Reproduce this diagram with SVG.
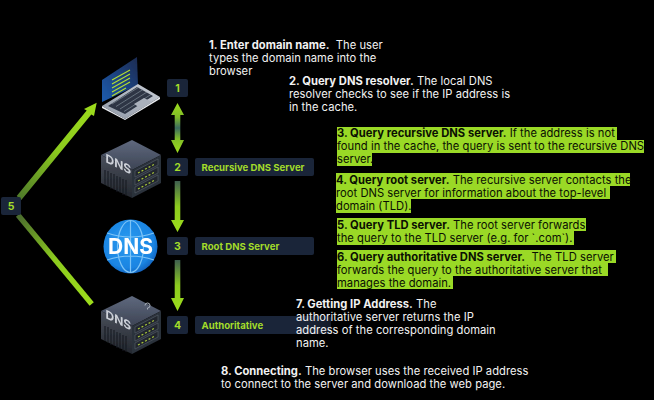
<svg xmlns="http://www.w3.org/2000/svg" width="654" height="400" viewBox="0 0 654 400">
<style>
text{font-family:"Inter","Noto Sans","Liberation Sans",sans-serif;}
.p{font-size:11.2px;fill:#f2f2f2;letter-spacing:.03px}
.k{font-size:11.2px;fill:#0a0f02;letter-spacing:.03px}
.p tspan,.k tspan{font-weight:700}
.hl{fill:#9ad926}
.box{fill:#1a2539}
.n{font-size:10.5px;font-weight:700;fill:#a3dc2a;text-anchor:middle}
.l{font-size:9.6px;font-weight:700;fill:#a3dc2a}
.code{stroke:#b4dc30;stroke-width:1.200}
.slot{fill:#20262f;stroke:#59616d;stroke-width:.6}
.grill{stroke:#14181e;stroke-width:1}
.icon{filter:url(#soft)}
</style>
<defs>
<filter id="soft" x="-5%" y="-5%" width="110%" height="110%"><feGaussianBlur stdDeviation=".35"/></filter>
<linearGradient id="gv" x1="0" y1="0" x2="0" y2="1"><stop offset="0" stop-color="#3f5f50"/><stop offset=".5" stop-color="#8ccb1e"/><stop offset="1" stop-color="#9ddc1c"/></linearGradient>
<linearGradient id="gd" x1="0" y1="0" x2="0" y2="1"><stop offset="0" stop-color="#9ddc1c"/><stop offset=".28" stop-color="#80bc28"/><stop offset=".5" stop-color="#3a6a60"/><stop offset=".72" stop-color="#80bc28"/><stop offset="1" stop-color="#9ddc1c"/></linearGradient>
<linearGradient id="g5u" gradientUnits="userSpaceOnUse" x1="19" y1="198" x2="96" y2="103"><stop offset="0" stop-color="#4f7a2a"/><stop offset=".5" stop-color="#8ccb1e"/><stop offset="1" stop-color="#9ddc1c"/></linearGradient>
<linearGradient id="g5d" gradientUnits="userSpaceOnUse" x1="18" y1="215" x2="91" y2="304"><stop offset="0" stop-color="#4a6b2e"/><stop offset=".5" stop-color="#8ccb1e"/><stop offset="1" stop-color="#9ddc1c"/></linearGradient>
<linearGradient id="scr" x1="0" y1="1" x2="1" y2="0"><stop offset="0" stop-color="#1c5cb0"/><stop offset="1" stop-color="#1a2a50"/></linearGradient>
<linearGradient id="deck" x1="0" y1="1" x2="1" y2="0"><stop offset="0" stop-color="#8f98a6"/><stop offset="1" stop-color="#c9ced6"/></linearGradient>
<linearGradient id="top" x1="0" y1="0" x2="0" y2="1"><stop offset="0" stop-color="#5f697e"/><stop offset="1" stop-color="#3d4454"/></linearGradient>
<linearGradient id="left" x1="0" y1="0" x2="0" y2="1"><stop offset="0" stop-color="#4a505c"/><stop offset="1" stop-color="#23272e"/></linearGradient>
<radialGradient id="globe" cx=".45" cy=".42" r=".6"><stop offset="0" stop-color="#2a9bf0"/><stop offset=".8" stop-color="#1a84e2"/><stop offset="1" stop-color="#1162bd"/></radialGradient>
<linearGradient id="fade" x1="0" y1="0" x2="1" y2="0"><stop offset="0" stop-color="#1a2539"/><stop offset=".8" stop-color="#1a2539"/><stop offset="1" stop-color="#141b28"/></linearGradient>
<g id="srv">
<polygon points="132,140 161,155 132,170 101,155" fill="url(#top)"/>
<polygon points="101,155 132,170 132,198 101,183" fill="url(#left)"/>
<polygon points="132,170 161,155 161,183 132,198" fill="#2c313b"/>
<g class="grill"><path d="M105,170v15M108,171v16M111,173v16M114,174v16M117,176v16M120,177v16M123,179v16M126,180v16"/></g>
<text transform="translate(105.500,162) skewY(26)" font-size="12" font-weight="700" style="fill:#cdd1d8">DNS</text>
<g><polygon class="slot" points="135,171 158,159 158,165 135,177"/><polygon class="slot" points="135,179 158,167 158,173 135,185"/><polygon class="slot" points="135,187 158,175 158,181 135,193"/>
<path d="M138,173l17,-9M138,181l17,-9M138,189l17,-9" stroke="#a9c83a" stroke-width="1.200" stroke-dasharray="2 2"/></g>
</g>
</defs>
<rect id="bg" width="654" height="400" fill="#000"/>

<g id="connectors">
<path d="M177.500,103L184,115H180.300V140H184L177.500,153L171,140H174.700V115H171Z" fill="url(#gd)"/>
<path d="M174.700,181H180.300V220H184L177.500,232L171,220H174.700Z" fill="url(#gv)"/>
<path d="M174.700,260H180.300V298H184L177.500,311L171,298H174.700Z" fill="url(#gv)"/>
<path d="M16.700,196.100L86.700,110.600L84,109L96.700,102.700L94,116L91.300,114.400L21.300,199.900Z" fill="url(#g5u)"/>
<path d="M20.100,213.300L93.800,302.300L89.600,305.700L15.900,216.700Z" fill="url(#g5d)"/>
</g>

<g id="node-5"><rect class="box" x="1" y="197" width="20" height="18" rx="2"/><text class="n" x="11" y="210">5</text></g>

<g id="node-laptop" class="icon">
<polygon points="102,80 137,57 138,85 102,102" fill="url(#scr)"/>
<path class="code" d="M112,80l18,-10M112,84l18,-10M112,88l18,-10M112,92l18,-10M112,96l14,-8"/>
<polygon points="102,106 138,84 160,97 125,119" fill="url(#deck)"/>
<polygon points="102,106 125,119 160,97 160,99 125,120 102,108" fill="#e6e9ee"/>
<polygon points="108,106 137,87 153,96 125,114" fill="#2d3644"/>
<path d="M112,104l27,-17M116,106.500l27,-17M120,109l27,-17M124,111.500l27,-17" stroke="#8f98a6" stroke-width=".6"/>
<polygon points="134,104 144,98 152,102 141,108.500" fill="#aab1bc"/>
</g>

<g id="node-1"><rect class="box" x="167" y="79" width="21" height="18" rx="2"/><text class="n" x="177.500" y="92">1</text></g>

<g id="node-recursive" class="icon"><use href="#srv"/></g>
<g id="node-2"><rect class="box" x="167" y="158" width="21" height="18" rx="2"/><text class="n" x="177.500" y="171">2</text>
<rect class="box" x="195" y="158" width="119" height="18" rx="2"/><text class="l" x="201.500" y="170.500">Recursive DNS Server</text></g>

<g id="node-globe" class="icon">
<circle cx="130.500" cy="246.500" r="27" fill="url(#globe)"/>
<g fill="none" stroke="#7cc4f7" stroke-width="1.200"><ellipse cx="130.500" cy="246.500" rx="13" ry="26"/><path d="M130.500,220v53M107,233q23.500,8 47,0M107,260q23.500,-8 47,0"/></g>
<text x="130.500" y="254" font-size="21" font-weight="700" text-anchor="middle" style="fill:#fff">DNS</text>
</g>
<g id="node-3"><rect class="box" x="167" y="237" width="21" height="18" rx="2"/><text class="n" x="177.500" y="250">3</text>
<rect class="box" x="195" y="237" width="119" height="18" rx="2"/><text class="l" x="201.500" y="249.500">Root DNS Server</text></g>

<g id="node-authoritative" class="icon"><use href="#srv" y="156"/>
<path d="M145,305.500a2.500,2.500 0 1 1 2.500,2.500v1.500" fill="none" stroke="#aab1bc" stroke-width="1"/></g>
<g id="node-4"><rect class="box" x="167" y="316" width="21" height="18" rx="2"/><text class="n" x="177.500" y="329">4</text>
<rect x="195" y="316" width="136" height="18" rx="2" fill="url(#fade)"/><text class="l" x="201.500" y="328.500">Authoritative</text></g>

<g id="step-1"><text class="p" x="209" y="48.500"><tspan>1. Enter domain name.</tspan>&#160; The user</text><text class="p" x="209" y="62">types the domain name into the</text><text class="p" x="209" y="75">browser</text></g>
<g id="step-2"><text class="p" x="289" y="85"><tspan>2. Query DNS resolver.</tspan> The local DNS</text><text class="p" x="289" y="98">resolver checks to see if the IP address is</text><text class="p" x="289" y="111">in the cache.</text></g>

<g id="step-3"><rect class="hl" x="337" y="127" width="280" height="13"/><rect class="hl" x="337" y="140" width="307" height="13"/><rect class="hl" x="337" y="153" width="35" height="13"/>
<text class="k" x="337" y="137"><tspan>3. Query recursive DNS server.</tspan> If the address is not</text><text class="k" x="337" y="150">found in the cache, the query is sent to the recursive DNS</text><text class="k" x="337" y="163">server.</text></g>
<g id="step-4"><rect class="hl" x="336" y="173" width="294" height="13"/><rect class="hl" x="336" y="186" width="274" height="13"/><rect class="hl" x="336" y="199" width="75" height="14"/>
<text class="k" x="336" y="184"><tspan>4. Query root server.</tspan> The recursive server contacts the</text><text class="k" x="336" y="197">root DNS server for information about the top-level</text><text class="k" x="336" y="210">domain (TLD).</text></g>
<g id="step-5"><rect class="hl" x="337" y="218" width="249" height="13"/><rect class="hl" x="337" y="231" width="237" height="14"/>
<text class="k" x="337" y="229"><tspan>5. Query TLD server.</tspan> The root server forwards</text><text class="k" x="337" y="242">the query to the TLD server (e.g. for `.com`).</text></g>
<g id="step-6"><rect class="hl" x="337" y="250" width="279" height="13"/><rect class="hl" x="337" y="263" width="271" height="13"/><rect class="hl" x="337" y="276" width="116" height="13"/>
<text class="k" x="337" y="261"><tspan>6. Query authoritative DNS server.</tspan>&#160; The TLD server</text><text class="k" x="337" y="274">forwards the query to the authoritative server that</text><text class="k" x="337" y="287">manages the domain.</text></g>

<g id="step-7"><text class="p" x="296" y="308"><tspan>7. Getting IP Address.</tspan> The</text><text class="p" x="296" y="321">authoritative server returns the IP</text><text class="p" x="296" y="334">address of the corresponding domain</text><text class="p" x="296" y="347">name.</text></g>
<g id="step-8"><text class="p" x="221" y="375"><tspan>8. Connecting.</tspan> The browser uses the received IP address</text><text class="p" x="221" y="388">to connect to the server and download the web page.</text></g>
</svg>
